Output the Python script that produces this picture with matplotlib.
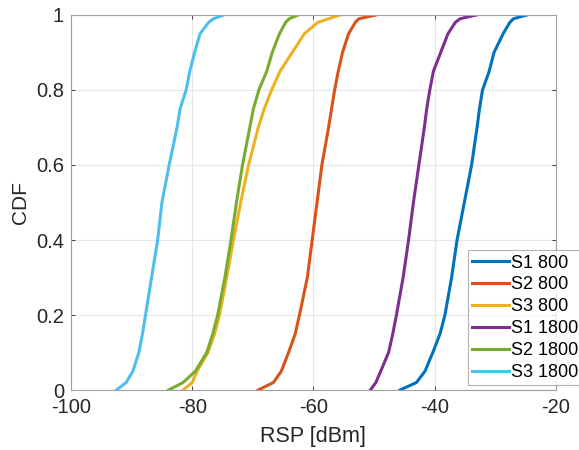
import matplotlib.pyplot as plt
import numpy as np

plt.rcParams['font.family'] = ['Liberation Sans', 'DejaVu Sans']
plt.rcParams['axes.unicode_minus'] = False

# CDF levels at which the quantiles were read
cdf_levels = [0, 0.02, 0.05, 0.1, 0.15, 0.2, 0.3, 0.4, 0.5, 0.6,
              0.7, 0.75, 0.8, 0.85, 0.9, 0.95, 0.98, 0.99, 1]

# RSP quantiles [dBm] per series
s1_800 = [-45.7, -43.0, -41.6, -40.3, -39.1, -38.3, -37.2, -36.3, -35.1, -33.9,
          -33.0, -32.6, -32.1, -31.0, -30.2, -28.7, -27.6, -27.0, -24.8]
s2_800 = [-69.1, -66.6, -65.3, -64.1, -63.0, -62.3, -61.0, -60.2, -59.4, -58.6,
          -57.5, -57.0, -56.5, -55.9, -55.2, -54.2, -53.1, -52.5, -49.7]
s3_800 = [-81.5, -80.0, -79.2, -77.4, -76.3, -75.5, -74.3, -73.2, -72.0, -70.7,
          -69.1, -68.1, -66.9, -65.5, -63.5, -61.5, -59.3, -57.5, -55.6]
s1_1800 = [-50.6, -49.7, -48.9, -47.6, -46.9, -46.3, -45.2, -44.3, -43.5, -42.6,
           -41.7, -41.3, -40.8, -40.2, -39.0, -37.8, -36.6, -35.8, -33.1]
s2_1800 = [-83.9, -81.5, -79.5, -77.6, -76.6, -75.8, -74.6, -73.6, -72.7, -71.7,
           -70.5, -69.9, -69.0, -67.7, -66.8, -65.6, -64.6, -64.0, -62.5]
s3_1800 = [-92.5, -90.9, -89.8, -88.8, -88.2, -87.7, -86.7, -85.7, -85.0, -83.8,
           -82.5, -82.0, -81.0, -80.4, -79.6, -78.7, -77.3, -76.5, -74.8]

labels = ['S1 800', 'S2 800', 'S3 800', 'S1 1800', 'S2 1800', 'S3 1800']
colors = ['#0072BD', '#D95319', '#EDB120', '#7E2F8E', '#77AC30', '#4DBEEE']

fig = plt.figure(figsize=(5.79, 4.5), dpi=100)
ax = fig.add_axes([0.1226, 0.1333, 0.8374, 0.8334])

for data, lab, col in zip([s1_800, s2_800, s3_800, s1_1800, s2_1800, s3_1800], labels, colors):
    ax.plot(data, cdf_levels, color=col, linewidth=2.2, label=lab)

ax.set_xlim(-100, -20)
ax.set_ylim(0, 1)
ax.set_xticks([-100, -80, -60, -40, -20])
ax.set_yticks([0, 0.2, 0.4, 0.6, 0.8, 1])
ax.set_yticklabels(['0', '0.2', '0.4', '0.6', '0.8', '1'])
ax.grid(True, color='#e6e6e6', linewidth=0.8)
ax.set_axisbelow(True)
ax.tick_params(direction='in', top=True, right=True, labelsize=14.5, colors='#262626',
               length=3, width=0.6)
ax.tick_params(axis='x', pad=6)
ax.tick_params(axis='y', pad=5)
for sp in ax.spines.values():
    sp.set_color('#a0a0a0')
    sp.set_linewidth(0.8)

ax.set_xlabel('RSP [dBm]', fontsize=15.5, color='#262626', labelpad=6)
ax.set_ylabel('CDF', fontsize=15, color='#262626', labelpad=4)

leg = ax.legend(loc='upper left', bbox_to_anchor=(0.8186, 0.3733),
                fontsize=13, frameon=True, fancybox=False, borderpad=0.25,
                handlelength=2.0, handletextpad=0.15, labelspacing=0.27, borderaxespad=0)
leg.get_frame().set_edgecolor('#a0a0a0')
leg.get_frame().set_linewidth(0.8)

fig.savefig('out.png', dpi=100)
